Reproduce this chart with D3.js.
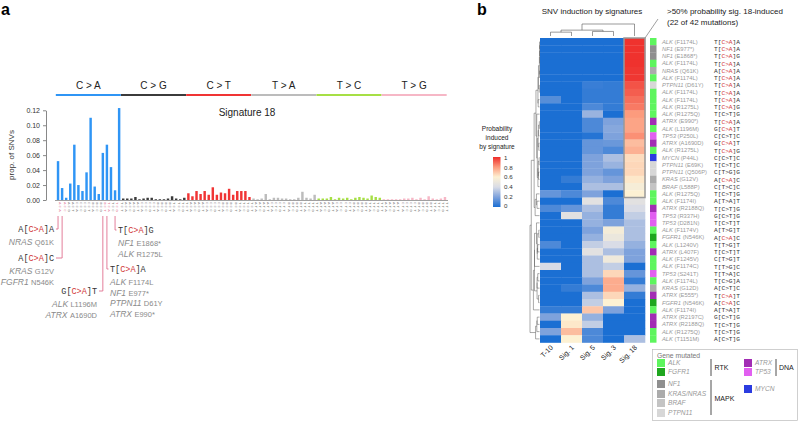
<!DOCTYPE html>
<html lang="en">
<head>
<meta charset="utf-8">
<title>Signature 18</title>
<script src="https://d3js.org/d3.v7.min.js"></script>
<style>
body { margin: 0; background: #fff; }
svg text { font-family: "Liberation Sans", Arial, sans-serif; }
.mono { font-family: "Liberation Mono", "DejaVu Sans Mono", monospace; }
</style>
</head>
<body>
<script>
// ---------- panel a data ----------
var mutTypes = ["C > A", "C > G", "C > T", "T > A", "T > C", "T > G"];
var typeColors = ["#2f95f5", "#3b3b3b", "#f03434", "#bcbcbc", "#a6df45", "#f6b7c6"];
var bases = ["A", "C", "G", "T"];
var caVals = [0.052, 0.016, 0.003, 0.022, 0.074, 0.020, 0.012, 0.037, 0.110, 0.018, 0.008, 0.063, 0.074, 0.044, 0.013, 0.123];
var cgVals = [0.002, 0.002, 0.002, 0.004, 0.001, 0.002, 0.003, 0.003, 0.001, 0.001, 0.001, 0.002, 0.005, 0.002, 0.001, 0.003];
var ctVals = [0.009, 0.005, 0.012, 0.008, 0.012, 0.007, 0.017, 0.007, 0.010, 0.009, 0.015, 0.007, 0.012, 0.012, 0.012, 0.004];
var taVals = [0.002, 0.001, 0.002, 0.008, 0.001, 0.003, 0.003, 0.002, 0.002, 0.001, 0.001, 0.003, 0.011, 0.003, 0.002, 0.007];
var tcVals = [0.002, 0.002, 0.002, 0.004, 0.001, 0.003, 0.002, 0.003, 0.001, 0.003, 0.004, 0.003, 0.002, 0.006, 0.004, 0.003];
var tgVals = [0.001, 0.001, 0.001, 0.001, 0.001, 0.002, 0.002, 0.003, 0.001, 0.003, 0.001, 0.005, 0.002, 0.001, 0.002, 0.004];
var yTicks = [0, 0.02, 0.04, 0.06, 0.08, 0.10, 0.12];
var highlightBars = [0, 1, 11, 12, 14];
var annoContexts = [["A", "C>A", "A"], ["A", "C>A", "C"], ["G", "C>A", "T"], ["T", "C>A", "A"], ["T", "C>A", "G"]];
var annoGenes = [
  [["NRAS", "Q61K"]],
  [["KRAS", "G12V"], ["FGFR1", "N546K"]],
  [["ALK", "L1196M"], ["ATRX", "A1690D"]],
  [["ALK", "F1174L"], ["NF1", "E977*"], ["PTPN11", "D61Y"], ["ATRX", "E990*"]],
  [["NF1", "E1868*"], ["ALK", "R1275L"]]
];

// ---------- panel b data ----------
var sigNames = ["T-10", "Sig. 1", "Sig. 5", "Sig. 3", "Sig. 18"];
var rowGenes = ["ALK","NF1","NF1","ALK","NRAS","ALK","PTPN11","ALK","ALK","ALK","ALK","ATRX","ALK","TP53","ATRX","ALK","MYCN","PTPN11","PTPN11","KRAS","BRAF","ALK",
  "ALK","ATRX","TP53","TP53","ALK","FGFR1","ALK","ATRX","ALK","ALK","TP53","ALK","KRAS","ATRX","FGFR1","ALK","ATRX","ATRX","ALK","ALK"];
var rowMuts = ["F1174L","E977*","E1868*","F1174L","Q61K","F1174L","D61Y","F1174L","F1174L","R1275L","R1275Q","E990*","L1196M","P250L","A1690D","R1275L","P44L","E69K","Q506P","G12V","L588P","R1275Q",
  "F1174I","R2188Q","R337H","D281N","F1174V","N546K","L1240V","L407F","F1245V","F1174C","S241T","F1174L","G12D","E555*","N546K","F1174I","R2197C","R2188Q","R1275Q","T1151M"];
var rowContexts = ["T[C>A]A","T[C>A]A","T[C>A]G","T[C>A]A","A[C>A]A","T[C>A]A","T[C>A]A","T[C>A]A","T[C>A]A","T[C>A]G","T[C>T]G","T[C>A]A","G[C>A]T","C[C>T]C","G[C>A]T","T[C>A]G","C[C>T]C","T[C>T]C","C[T>G]G","A[C>A]C","C[T>C]C","T[C>T]G",
  "A[T>A]T","T[C>T]G","G[C>T]G","T[C>T]T","A[T>G]T","A[C>A]C","T[T>G]T","T[C>T]T","C[T>G]T","T[T>G]C","T[T>A]C","T[C>G]A","A[C>T]C","T[C>A]T","A[C>A]C","A[T>A]T","G[C>T]G","T[C>T]G","T[C>T]G","A[C>T]G"];
// probability per row: T-10, Sig.1, Sig.5, Sig.3, Sig.18
var probs = [
  [0,0,0,0,0.99],[0,0,0,0,0.99],[0,0,0,0,0.99],[0,0,0,0,0.99],[0,0,0,0,0.98],[0,0,0,0,0.98],
  [0,0,0.06,0.05,0.93],[0,0,0.05,0.05,0.91],[0.12,0,0.05,0.05,0.88],[0,0,0.1,0.05,0.86],[0,0,0.26,0,0.8],
  [0,0,0.1,0.2,0.78],[0,0,0.1,0.22,0.78],[0,0,0.02,0.2,0.82],[0,0,0.15,0.16,0.72],[0,0,0.15,0.1,0.75],
  [0,0,0.2,0.3,0.65],[0,0,0.2,0.26,0.66],[0,0,0.2,0.15,0.66],[0,0.05,0.25,0.2,0.62],[0,0,0.3,0.3,0.56],[0.15,0.1,0.2,0,0.6],
  [0,0,0.45,0.1,0.45],[0.1,0.15,0.3,0.05,0.4],[0,0.45,0.25,0.05,0.35],[0,0,0.25,0.2,0.3],[0,0,0.2,0.55,0.3],
  [0,0,0.25,0.5,0.3],[0.1,0,0.35,0.4,0.25],[0,0,0.45,0.3,0.2],[0,0,0.3,0.52,0.2],[0.4,0,0.3,0.35,0],
  [0,0,0.3,0.66,0.15],[0,0,0.2,0.76,0.05],[0,0.05,0.1,0.76,0.25],[0,0,0.3,0.66,0.05],[0,0,0.35,0.6,0],
  [0.05,0.05,0.7,0.2,0],[0.2,0.6,0.25,0,0],[0,0.62,0.35,0,0],[0.2,0.72,0.1,0,0],[0,0.6,0.1,0,0.3]
];
var inducedCount = 22;
var geneNames = ["ALK", "FGFR1", "NF1", "KRAS/NRAS", "BRAF", "PTPN11", "ATRX", "TP53", "MYCN"];
var geneColors = ["#5ef55e", "#1fa61f", "#8f8f8f", "#ababab", "#c4c4c4", "#d7d7d7", "#a22db4", "#e15ff0", "#2b3ce0"];
var legendTicks = [0, 0.2, 0.4, 0.6, 0.8, 1];

function geneColor(g) {
  if (g == "KRAS" || g == "NRAS") g = "KRAS/NRAS";
  return geneColors[geneNames.indexOf(g)];
}

var svg = d3.select("body").append("svg").attr("width", 798).attr("height", 421);

// ================= panel a =================
svg.append("text").attr("x", 1).attr("y", 15).attr("font-size", 16).attr("font-weight", "bold").text("a");

var allVals = [caVals, cgVals, ctVals, taVals, tcVals, tgVals];
var bars = [];
allVals.forEach(function(vals, t) {
  var ref = t < 3 ? "C" : "T";
  vals.forEach(function(v, k) {
    bars.push({ i: t * 16 + k, t: t, v: v, ctx: bases[Math.floor(k / 4)] + ref + bases[k % 4] });
  });
});

var x = d3.scaleBand().domain(d3.range(96)).range([56, 447]).paddingInner(0.4).paddingOuter(0.2);
var y = d3.scaleLinear().domain([0, 0.12]).range([200, 110.3]);

// category header lines
mutTypes.forEach(function(m, t) {
  var x0 = x(t * 16) - 1, x1 = x(t * 16 + 15) + x.bandwidth() + 0.5;
  svg.append("line").attr("x1", x0).attr("x2", x1).attr("y1", 95).attr("y2", 95)
    .attr("stroke", typeColors[t]).attr("stroke-width", 2);
  svg.append("text").attr("x", (x0 + x1) / 2).attr("y", 89).attr("text-anchor", "middle")
    .attr("font-size", 10).attr("fill", "#222").text(m);
});

svg.append("text").attr("x", 247).attr("y", 116).attr("text-anchor", "middle").attr("font-size", 10)
  .attr("fill", "#222").text("Signature 18");

var yAxis = svg.append("g").attr("transform", "translate(46,0)")
  .call(d3.axisLeft(y).tickValues(yTicks).tickFormat(d3.format(".2f")).tickSize(3).tickSizeOuter(0));
yAxis.select(".domain").attr("stroke", "#888");
yAxis.selectAll(".tick line").attr("stroke", "#888");
yAxis.selectAll("text").attr("font-size", 7).attr("fill", "#333").attr("font-family", "Liberation Sans, Arial, sans-serif");

svg.append("text").attr("transform", "translate(14,155) rotate(-90)").attr("text-anchor", "middle")
  .attr("font-size", 8).attr("fill", "#333").text("prop. of SNVs");

svg.selectAll("rect.bar").data(bars).enter().append("rect").attr("class", "bar")
  .attr("x", function(d) { return x(d.i); })
  .attr("width", x.bandwidth())
  .attr("y", function(d) { return y(d.v); })
  .attr("height", function(d) { return y(0) - y(d.v); })
  .attr("fill", function(d) { return typeColors[d.t]; });

svg.append("line").attr("x1", 55).attr("x2", 448).attr("y1", 200.5).attr("y2", 200.5)
  .attr("stroke", "#777").attr("stroke-width", 0.7);

// tiny context labels
svg.selectAll("text.ctx").data(bars).enter().append("text").attr("class", "ctx mono")
  .attr("transform", function(d) { return "translate(" + (x(d.i) + x.bandwidth() / 2 + 1.4) + ",202) rotate(90)"; })
  .attr("font-size", 4).attr("letter-spacing", 1.2)
  .attr("fill", function(d) { return highlightBars.indexOf(d.i) >= 0 ? "#e0708f" : "#777"; })
  .text(function(d) { return d.ctx; });

// annotations
var pink = "#e0708f";
var annoLayout = [
  { ly: 229, side: "end", tx: 54 },
  { ly: 258, side: "end", tx: 54 },
  { ly: 291, side: "end", tx: 97 },
  { ly: 269, side: "start", tx: 110 },
  { ly: 230, side: "start", tx: 118 }
];
highlightBars.forEach(function(b, j) {
  var L = annoLayout[j];
  var cx = x(b) + x.bandwidth() / 2;
  var hx = L.side == "end" ? L.tx + 2 : L.tx - 1.5;
  svg.append("path").attr("d", "M" + cx + ",216V" + L.ly + "H" + hx)
    .attr("fill", "none").attr("stroke", pink).attr("stroke-width", 0.9);
  var c = annoContexts[j];
  var t = svg.append("text").attr("class", "mono").attr("x", L.tx).attr("y", L.ly).attr("dy", "0.35em")
    .attr("text-anchor", L.side).attr("font-size", 8.5).attr("fill", "#333");
  t.append("tspan").text(c[0] + "[");
  t.append("tspan").attr("fill", "#d23a3a").text(c[1]);
  t.append("tspan").text("]" + c[2]);
  annoGenes[j].forEach(function(g, k) {
    var gt = svg.append("text").attr("x", L.tx).attr("y", L.ly + 10.5 * (k + 1)).attr("dy", "0.35em")
      .attr("text-anchor", L.side).attr("fill", "#8a8a8a");
    gt.append("tspan").attr("font-style", "italic").attr("font-size", 8.5).text(g[0] + " ");
    gt.append("tspan").attr("font-size", 7.5).text(g[1]);
  });
});

// ================= panel b =================
svg.append("text").attr("x", 477).attr("y", 15).attr("font-size", 16).attr("font-weight", "bold").text("b");
svg.append("text").attr("x", 592).attr("y", 14).attr("text-anchor", "middle").attr("font-size", 8)
  .attr("fill", "#222").text("SNV induction by signatures");
svg.append("text").attr("x", 667).attr("y", 14).attr("font-size", 8).attr("fill", "#222")
  .text(">50% probability sig. 18-induced");
svg.append("text").attr("x", 667).attr("y", 25).attr("font-size", 8).attr("fill", "#222")
  .text("(" + inducedCount + " of " + probs.length + " mutations)");

var hx = d3.scaleBand().domain(d3.range(sigNames.length)).range([540, 645]);
var hy = d3.scaleBand().domain(d3.range(probs.length)).range([38, 342.5]);
var heatColor = d3.scaleLinear().domain(legendTicks)
  .range(["#1b6fd3", "#7ea2dc", "#d9dce6", "#fdf1d3", "#fc9b7d", "#ee2c2a"]);

var cells = [];
probs.forEach(function(row, r) { row.forEach(function(v, c) { cells.push({ r: r, c: c, v: v }); }); });
svg.selectAll("rect.cell").data(cells).enter().append("rect").attr("class", "cell")
  .attr("x", function(d) { return hx(d.c); })
  .attr("y", function(d) { return hy(d.r); })
  .attr("width", hx.bandwidth() + 0.3)
  .attr("height", hy.bandwidth() + 0.3)
  .attr("fill", function(d) { return heatColor(d.v); });

// highlight box around sig 18 induced rows
svg.append("rect").attr("x", hx(4)).attr("y", hy(0)).attr("width", hx.bandwidth())
  .attr("height", hy.step() * inducedCount).attr("fill", "none").attr("stroke", "#999").attr("stroke-width", 1.5);
svg.append("line").attr("x1", hx(4) + hx.bandwidth()).attr("y1", hy(0)).attr("x2", 658).attr("y2", 19)
  .attr("stroke", "#888").attr("stroke-width", 0.8);

// simple order-preserving average-linkage clustering for dendrograms
function orderedCluster(vectors) {
  var dist = function(a, b) { return Math.sqrt(d3.sum(a, function(v, i) { return (v - b[i]) * (v - b[i]); })); };
  var cl = vectors.map(function(v, i) { return { members: [i], pos: i, h: 0, children: null }; });
  while (cl.length > 1) {
    var best = 0, bd = Infinity;
    for (var i = 0; i < cl.length - 1; i++) {
      var a = cl[i], b = cl[i + 1];
      var d = d3.mean(a.members, function(m) { return d3.mean(b.members, function(n) { return dist(vectors[m], vectors[n]); }); });
      if (d < bd) { bd = d; best = i; }
    }
    var a = cl[best], b = cl[best + 1];
    cl.splice(best, 2, { members: a.members.concat(b.members), pos: (a.pos + b.pos) / 2, h: Math.max(bd, a.h, b.h), children: [a, b] });
  }
  return cl[0];
}
function walk(node, f) { if (node.children) { f(node); node.children.forEach(function(c) { walk(c, f); }); } }

// row dendrogram (left)
var rowTree = orderedCluster(probs);
var rdx = d3.scaleLinear().domain([0, rowTree.h]).range([539.5, 530]);
var rpos = function(p) { return hy(0) + (p + 0.5) * hy.step(); };
var rowPaths = [];
walk(rowTree, function(n) {
  n.children.forEach(function(c) {
    rowPaths.push("M" + rdx(n.h) + "," + rpos(c.pos) + "V" + rpos(c.pos) + "H" + rdx(c.h));
  });
  rowPaths.push("M" + rdx(n.h) + "," + rpos(n.children[0].pos) + "V" + rpos(n.children[1].pos));
});
svg.append("path").attr("d", rowPaths.join("")).attr("fill", "none").attr("stroke", "#555").attr("stroke-width", 0.5);

// column dendrogram (top)
var cols = sigNames.map(function(s, c) { return probs.map(function(r) { return r[c]; }); });
var colTree = orderedCluster(cols);
var cdy = d3.scaleLinear().domain([0, colTree.h]).range([36, 24]);
var cpos = function(p) { return hx(0) + (p + 0.5) * hx.step(); };
var colPaths = [];
walk(colTree, function(n) {
  n.children.forEach(function(c) {
    colPaths.push("M" + cpos(c.pos) + "," + cdy(n.h) + "V" + cdy(c.h));
  });
  colPaths.push("M" + cpos(n.children[0].pos) + "," + cdy(n.h) + "H" + cpos(n.children[1].pos));
});
svg.append("path").attr("d", colPaths.join("")).attr("fill", "none").attr("stroke", "#555").attr("stroke-width", 0.6);

// column labels
svg.selectAll("text.col").data(sigNames).enter().append("text").attr("class", "col")
  .attr("transform", function(d, i) { return "translate(" + (hx(i) + hx.bandwidth() / 2 + 3) + ",348) rotate(-45)"; })
  .attr("text-anchor", "end").attr("font-size", 7).attr("fill", "#222").text(function(d) { return d; });

// gene strip
svg.selectAll("rect.gene").data(rowGenes).enter().append("rect").attr("class", "gene")
  .attr("x", 650).attr("width", 6.5)
  .attr("y", function(d, i) { return hy(i); })
  .attr("height", hy.step() + 0.2)
  .attr("fill", function(d) { return geneColor(d); });

// row labels
rowGenes.forEach(function(g, i) {
  var yy = hy(i) + hy.bandwidth() / 2;
  var t = svg.append("text").attr("x", 662).attr("y", yy).attr("dy", "0.35em").attr("font-size", 5.8).attr("fill", "#999");
  t.append("tspan").attr("font-style", "italic").text(g + " ");
  t.append("tspan").text("(" + rowMuts[i] + ")");
  var c = rowContexts[i];
  var ct = svg.append("text").attr("class", "mono").attr("x", 714).attr("y", yy).attr("dy", "0.35em")
    .attr("font-size", 6.2).attr("fill", "#333");
  ct.append("tspan").text(c.slice(0, 2));
  ct.append("tspan").attr("fill", c.slice(2, 5) == "C>A" ? "#d23a3a" : "#333").text(c.slice(2, 5));
  ct.append("tspan").text(c.slice(5));
});

// colour legend
var defs = svg.append("defs");
var grad = defs.append("linearGradient").attr("id", "pgrad").attr("x1", 0).attr("y1", 1).attr("x2", 0).attr("y2", 0);
legendTicks.forEach(function(v) { grad.append("stop").attr("offset", v).attr("stop-color", heatColor(v)); });
var ly = d3.scaleLinear().domain([0, 1]).range([206, 158]);
svg.append("rect").attr("x", 493).attr("y", ly(1) - 1).attr("width", 7.5).attr("height", ly(0) - ly(1) + 2).attr("fill", "url(#pgrad)");
svg.selectAll("text.lt").data(legendTicks).enter().append("text").attr("class", "lt")
  .attr("x", 504).attr("y", function(d) { return ly(d); }).attr("dy", "0.35em").attr("font-size", 6.2).attr("fill", "#333")
  .text(function(d) { return d3.format("~g")(d); });
["Probability", "induced", "by signature"].forEach(function(s, i) {
  svg.append("text").attr("x", 497).attr("y", 131 + i * 9).attr("text-anchor", "middle").attr("font-size", 6.5)
    .attr("fill", "#222").text(s);
});

// gene legend
svg.append("rect").attr("x", 652.5).attr("y", 349.5).attr("width", 145).attr("height", 71)
  .attr("fill", "#fff").attr("stroke", "#bbb").attr("stroke-width", 0.7);
svg.append("text").attr("x", 657).attr("y", 356).attr("dy", "0.35em").attr("font-size", 6.8).attr("fill", "#777").text("Gene mutated");
var legPos = [[657, 363], [657, 372], [657, 384], [657, 394], [657, 403], [657, 413], [744, 363], [744, 372], [744, 389]];
geneNames.forEach(function(g, i) {
  var p = legPos[i];
  svg.append("rect").attr("x", p[0]).attr("y", p[1] - 4).attr("width", 8).attr("height", 8).attr("fill", geneColors[i]);
  svg.append("text").attr("x", p[0] + 11).attr("y", p[1]).attr("dy", "0.35em").attr("font-size", 6.6)
    .attr("font-style", "italic").attr("fill", "#999").text(g);
});
var groups = [["RTK", 711, 359, 376, 714.5, 367.5], ["MAPK", 711, 380, 415, 714.5, 398.5], ["DNA", 776, 359, 376, 779, 367.5]];
groups.forEach(function(gp) {
  svg.append("line").attr("x1", gp[1]).attr("x2", gp[1]).attr("y1", gp[2]).attr("y2", gp[3]).attr("stroke", "#222").attr("stroke-width", 0.8);
  svg.append("text").attr("x", gp[4]).attr("y", gp[5]).attr("dy", "0.35em").attr("font-size", 7).attr("fill", "#222").text(gp[0]);
});
</script>
</body>
</html>
